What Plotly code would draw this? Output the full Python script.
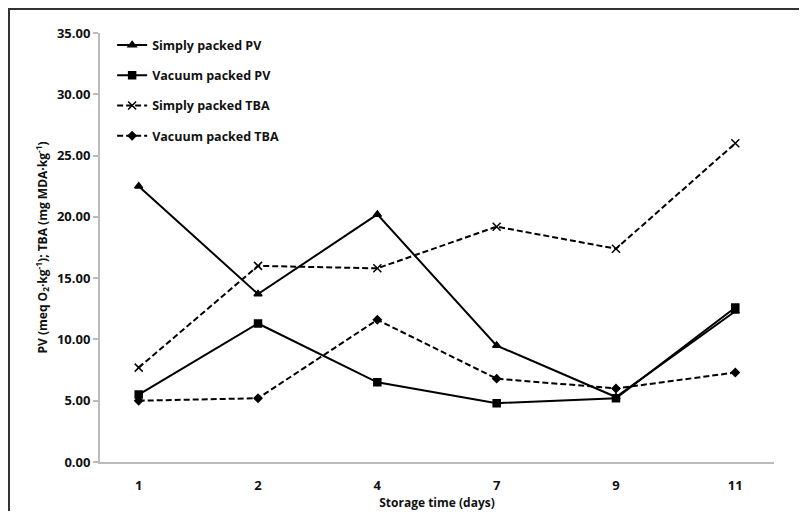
import plotly.graph_objects as go

days = ["1", "2", "4", "7", "9", "11"]
simply_pv = [22.5, 13.7, 20.2, 9.5, 5.3, 12.3]
vacuum_pv = [5.5, 11.3, 6.5, 4.8, 5.2, 12.6]
simply_tba = [7.7, 16.0, 15.8, 19.2, 17.4, 26.0]
vacuum_tba = [5.0, 5.2, 11.6, 6.8, 6.0, 7.3]
y_ticks = [0, 5, 10, 15, 20, 25, 30, 35]

series = [
    ("Simply packed PV", simply_pv, "solid", "triangle-up", 7),
    ("Vacuum packed PV", vacuum_pv, "solid", "square", 7),
    ("Simply packed TBA", simply_tba, "6px,3px", "x-thin-open", 8),
    ("Vacuum packed TBA", vacuum_tba, "6px,3px", "diamond", 6),
]

fig = go.Figure()
for i, (name, vals, dash, sym, size) in enumerate(series):
    fig.add_trace(go.Scatter(
        x=days, y=vals, name=name, mode="lines+markers",
        line=dict(color="black", width=2, dash=dash),
        marker=dict(symbol=sym, size=size, color="black",
                    line=dict(color="black", width=1.5)),
        legendgroup=f"g{i}",
    ))

W, H = 791, 503
L, R, T, B = 92, 25, 25, 49
pw, ph = W - L - R, H - T - B
fx = lambda px: (px - L) / pw          # figure px -> paper x
fy = lambda py: (H - B - py) / ph      # figure px (from top) -> paper y

font_family = "Open Sans, Liberation Sans, sans-serif"
fig.update_layout(
    width=W, height=H,
    margin=dict(l=L, r=R, t=T, b=B, autoexpand=False),
    paper_bgcolor="white", plot_bgcolor="white",
    font=dict(family=font_family, color="#111", size=12),
    showlegend=True,
    legend=dict(x=0.018, y=1.006, xanchor="left", yanchor="top",
                bgcolor="rgba(0,0,0,0)", tracegroupgap=11,
                font=dict(size=12.5, family=font_family, weight="bold"),
                itemwidth=30),
    xaxis=dict(type="category", categoryorder="array", categoryarray=days,
               showline=True, linecolor="#bbbbbb", linewidth=2,
               ticks="", showgrid=False, zeroline=False,
               ticklabelstandoff=10, automargin=False,
               tickfont=dict(size=13, weight="bold"),
               title=dict(text="Storage time (days)", standoff=10,
                          font=dict(size=12, weight="bold"))),
    yaxis=dict(range=[0, 35], tickvals=y_ticks,
               ticktext=[f"{v:.2f}" for v in y_ticks],
               showline=True, linecolor="#bbbbbb", linewidth=2,
               ticks="outside", ticklen=5, tickcolor="#bbbbbb", tickwidth=1.5,
               showgrid=False, zeroline=False, automargin=False,
               tickfont=dict(size=13, weight="bold"),
               title=dict(text="PV (meq O<sub>2</sub>·kg<sup>-1</sup>); TBA (mg MDA·kg<sup>-1</sup>)",
                          standoff=7, font=dict(size=12, weight="bold"))),
    shapes=[
        dict(type="line", xref="paper", yref="paper",
             x0=fx(0), x1=fx(W), y0=fy(1), y1=fy(1),
             line=dict(color="#333333", width=2), layer="above"),
        dict(type="line", xref="paper", yref="paper",
             x0=fx(1), x1=fx(1), y0=fy(0), y1=fy(H),
             line=dict(color="#333333", width=2), layer="above"),
    ],
)

fig.write_html("out.html")
